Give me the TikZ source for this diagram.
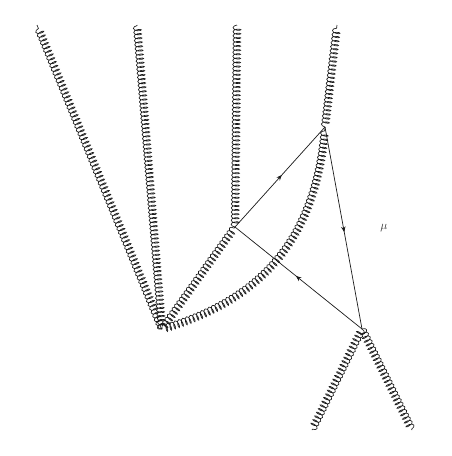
\documentclass[tikz,border=0pt]{standalone}
\usetikzlibrary{decorations.pathmorphing,decorations.markings,arrows.meta}
\tikzset{
  gluon/.style={draw=black!90,line width=0.65pt,decorate,decoration={coil,amplitude=3.9pt,segment length=4.1pt,aspect=0.4}},
  fermion/.style={draw=black!90,line width=0.7pt,postaction={decorate},decoration={markings,mark=at position 0.52 with {\arrow{Stealth[length=5.5pt,width=4.5pt]}}}},
  dot/.style={coordinate}
}
\begin{document}
\begin{tikzpicture}[x=1pt,y=-1pt]
\useasboundingbox (0,0) rectangle (451,456);
\node[dot] (hub) at (162,329) {};
\node[dot] (b) at (235,227) {};
\node[dot] (c) at (325,127) {};
\node[dot] (d) at (362,329) {};
\node[dot] (e1) at (37,25) {};
\node[dot] (e2) at (137,25) {};
\node[dot] (e3) at (237,25) {};
\node[dot] (e4) at (337,25) {};
\node[dot] (e5) at (312,430) {};
\node[dot] (e6) at (412,430) {};
\draw[gluon] (hub) -- (e1);
\draw[gluon] (hub) -- (e2);
\draw[gluon] (hub) -- (b);
\draw[gluon] (b) -- (e3);
\draw[gluon] (c) -- (e4);
\draw[gluon] (hub) .. controls (255,302) and (316,245) .. (c);
\draw[gluon] (d) -- (e5);
\draw[gluon] (d) -- (e6);
\draw[fermion] (b) -- (c);
\draw[fermion] (c) -- (d);
\draw[fermion] (d) -- (b);
\node[text=black!80,font=\fontsize{12}{14}\selectfont] (mu) at (384,228) {$\mu$};
\end{tikzpicture}
\end{document}
